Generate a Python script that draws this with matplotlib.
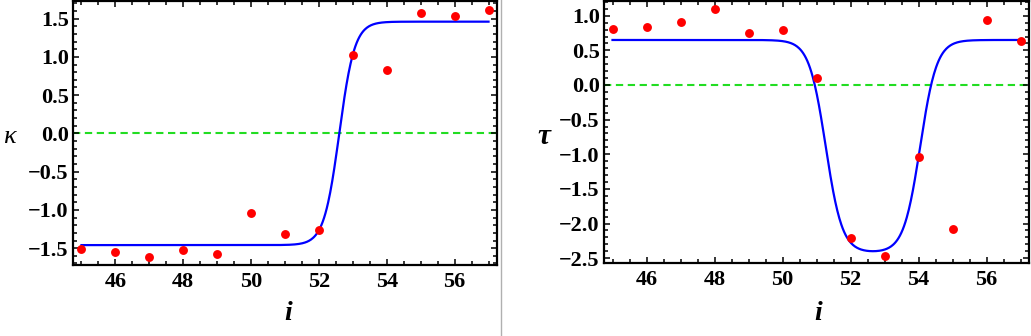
import matplotlib.pyplot as plt
from matplotlib.lines import Line2D
from matplotlib.ticker import MultipleLocator
import numpy as np

# sites
i_vals = [45, 46, 47, 48, 49, 50, 51, 52, 53, 54, 55, 56, 57]

# measured curvature and torsion (red dots)
kappa_pts = [-1.51, -1.55, -1.61, -1.52, -1.57, -1.04, -1.31, -1.26, 1.03, 0.83, 1.57, 1.53, 1.61]
tau_pts = [0.81, 0.84, 0.91, 1.10, 0.75, 0.79, 0.10, -2.21, -2.47, -1.04, -2.08, 0.94, 0.63]

# fitted soliton profiles (blue lines): level, centre, steepness
kappa_amp, kappa_c, kappa_k = 1.46, 52.6, 2.2
tau_hi, tau_lo, tau_c1, tau_c2, tau_k = 0.65, -2.42, 51.27, 54.05, 2.05

plt.rcParams['font.family'] = ['Liberation Serif', 'DejaVu Serif']
plt.rcParams['font.weight'] = 'bold'
plt.rcParams['xtick.labelsize'] = 16
plt.rcParams['ytick.labelsize'] = 16

fig = plt.figure(figsize=(10.31, 3.36), dpi=100)
W, H = 1031, 336


def box(l, t, r, b):
    return [l / W, 1 - b / H, (r - l) / W, (b - t) / H]


ax1 = fig.add_axes(box(73, 1, 497, 265))
ax2 = fig.add_axes(box(604, 0.5, 1029, 263))

s = np.linspace(45, 57, 600)
kappa_fit = kappa_amp * np.tanh(kappa_k * (s - kappa_c))
tau_fit = tau_hi - (tau_hi - tau_lo) / 2 * (np.tanh(tau_k * (s - tau_c1)) - np.tanh(tau_k * (s - tau_c2)))

for ax, fit, pts in [(ax1, kappa_fit, kappa_pts), (ax2, tau_fit, tau_pts)]:
    ax.axhline(0, color='#22dd22', lw=1.5, ls=(0, (3.5, 2.2)), zorder=1)
    ax.plot(s, fit, color='#0000ff', lw=1.6, zorder=2)
    ax.plot(i_vals, pts, 'o', color='#ff0000', ms=6.4, mec='none', zorder=3)
    ax.set_xlim(44.75, 57.25)
    ax.xaxis.set_major_locator(MultipleLocator(2))
    ax.xaxis.set_minor_locator(MultipleLocator(0.5))
    ax.yaxis.set_major_locator(MultipleLocator(0.5))
    ax.yaxis.set_minor_locator(MultipleLocator(0.1))
    ax.tick_params(which='both', direction='in', top=True, right=True, width=1.1)
    ax.tick_params(which='major', length=4.5)
    ax.tick_params(which='minor', length=2.8)
    ax.tick_params(axis='x', pad=5)
    ax.tick_params(axis='y', pad=3)
    for sp in ax.spines.values():
        sp.set_linewidth(1.6)

ax1.set_ylim(-1.72, 1.73)
ax2.set_ylim(-2.57, 1.22)

ax1.set_xlabel('i', fontsize=20, fontweight='bold', fontstyle='italic', va='center')
ax1.xaxis.set_label_coords((288 - 73) / 424, -(314 - 265) / 264)
ax2.set_xlabel('i', fontsize=20, fontweight='bold', fontstyle='italic', va='center')
ax2.xaxis.set_label_coords((818 - 604) / 425, -(314 - 263) / 262.5)

ax1.set_ylabel('κ', fontsize=19, fontweight='normal', fontstyle='italic', rotation=0, va='center', ha='center')
ax1.yaxis.set_label_coords((9 - 73) / 424, 1 - (137 - 1) / 264)
ax2.set_ylabel('τ', fontsize=21, fontweight='bold', fontstyle='italic', rotation=0, va='center', ha='center')
ax2.yaxis.set_label_coords((544 - 604) / 425, 1 - (137 - 0.5) / 262.5)

# thin grey divider between the two panels
fig.add_artist(Line2D([500.5 / W, 500.5 / W], [0, 1], color='#b0b0b0', lw=1.0))

fig.savefig('out.png', dpi=100)
